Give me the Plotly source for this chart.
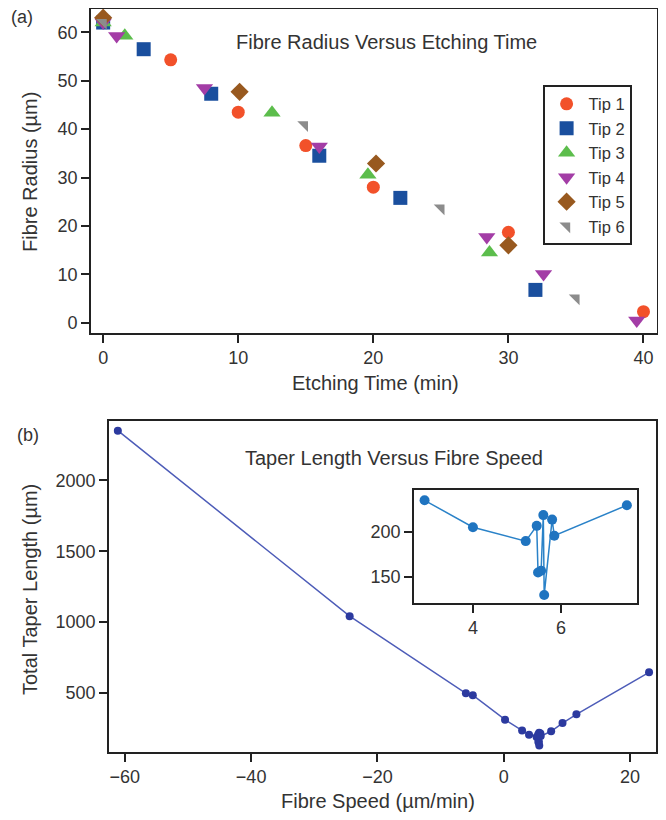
import plotly.graph_objects as go

# ---------------- Data: panel (a) ----------------
tip_names = ["Tip 1", "Tip 2", "Tip 3", "Tip 4", "Tip 5", "Tip 6"]
tip1_time = [0, 5, 10, 15, 20, 30, 40]
tip1_radius = [62.5, 54.3, 43.5, 36.6, 28.0, 18.7, 2.3]
tip2_time = [0, 3, 8, 16, 22, 32]
tip2_radius = [62.0, 56.5, 47.3, 34.5, 25.8, 6.8]
tip3_time = [0, 1.6, 12.5, 19.6, 28.6]
tip3_radius = [62.0, 59.3, 43.4, 30.6, 14.5]
tip4_time = [0, 1.0, 7.5, 16, 28.4, 32.6, 39.5]
tip4_radius = [62.0, 59.2, 48.5, 36.4, 17.7, 10.1, 0.5]
tip5_time = [0, 10.1, 20.2, 30]
tip5_radius = [63.0, 47.7, 32.9, 16.0]
tip6_time = [0, 14.9, 25, 35]
tip6_radius = [62.0, 40.9, 23.7, 5.1]

# ---------------- Data: panel (b) ----------------
fibre_speed = [-61.1, -24.4, -6.0, -4.9, 0.2, 2.9, 4.0, 5.2, 5.45, 5.48, 5.55,
               5.6, 5.62, 5.8, 5.85, 7.5, 9.3, 11.5, 23.0]
taper_length = [2350, 1042, 498, 484, 312, 235.5, 205.5, 190, 207, 155, 157,
                219, 130, 214, 196, 230, 288, 350, 646]
inset_speed = [s for s in fibre_speed if 2.5 < s < 8]
inset_length = [l for s, l in zip(fibre_speed, taper_length) if 2.5 < s < 8]

# page has an 8px body margin; figure is 650x804 placed at (8, 8)
OFF = 8
FW, FH = 650, 804
def px(x):
    return min(1.0, max(0.0, (x - OFF) / FW))
def py(y):
    return min(1.0, max(0.0, 1 - (y - OFF) / FH))

tips = [
    (tip1_time, tip1_radius, "circle", "#f2512a", 13),
    (tip2_time, tip2_radius, "square", "#1a4f9e", 14),
    (tip3_time, tip3_radius, "triangle-up", "#5cbd4c", 15),
    (tip4_time, tip4_radius, "triangle-down", "#a33da6", 15),
    (tip5_time, tip5_radius, "diamond", "#98591f", 14),
    (tip6_time, tip6_radius, "triangle-ne", "#8c8c8c", 12),
]

fig = go.Figure()
for name, (t, r, sym, col, sz) in zip(tip_names, tips):
    fig.add_trace(go.Scatter(x=t, y=r, mode="markers", name=name,
                             marker=dict(symbol=sym, color=col, size=sz, line=dict(width=0)),
                             xaxis="x", yaxis="y"))

fig.add_trace(go.Scatter(x=fibre_speed, y=taper_length, mode="lines+markers",
                         showlegend=False,
                         line=dict(color="#4d5cb8", width=1.5),
                         marker=dict(color="#2c3a9f", size=8),
                         xaxis="x2", yaxis="y2"))
fig.add_trace(go.Scatter(x=inset_speed, y=inset_length, mode="lines+markers",
                         showlegend=False,
                         line=dict(color="#2a82c8", width=1.5),
                         marker=dict(color="#1f74c0", size=10),
                         xaxis="x3", yaxis="y3"))

FAM = "Liberation Sans, Arial, sans-serif"
tickfont = dict(family=FAM, size=18, color="#333333")
axis_common = dict(showline=True, mirror=True, linecolor="#222222", linewidth=1.6,
                   ticks="outside", ticklen=8, tickwidth=1.6, tickcolor="#222222",
                   showgrid=False, zeroline=False, tickfont=tickfont)

fig.update_layout(
    width=FW, height=FH,
    margin=dict(l=0, r=0, t=0, b=0),
    paper_bgcolor="white", plot_bgcolor="white",
    font=dict(family=FAM, color="#333333"),
    xaxis=dict(domain=[px(91), px(657)], range=[-0.9, 41], tickvals=[0, 10, 20, 30, 40],
               anchor="y", **axis_common),
    yaxis=dict(domain=[py(333), py(9)], range=[-2.1, 64.8], tickvals=[0, 10, 20, 30, 40, 50, 60],
               anchor="x", **axis_common),
    xaxis2=dict(domain=[px(109), px(656)], range=[-62.5, 24.1], tickvals=[-60, -40, -20, 0, 20],
                ticktext=["\u221260", "\u221240", "\u221220", "0", "20"],
                anchor="y2", **axis_common),
    yaxis2=dict(domain=[py(752), py(421)], range=[84, 2418], tickvals=[500, 1000, 1500, 2000],
                anchor="x2", **axis_common),
    xaxis3=dict(domain=[px(414), px(637)], range=[2.66, 7.73], tickvals=[4, 6],
                anchor="y3", **axis_common),
    yaxis3=dict(domain=[py(603), py(490)], range=[121, 247], tickvals=[150, 200],
                anchor="x3", **axis_common),
    legend=dict(x=px(543), y=py(85), xanchor="left", yanchor="top",
                bgcolor="white", bordercolor="#222222", borderwidth=1.6,
                font=dict(family=FAM, size=16.5, color="#333333"), tracegroupgap=0,
                itemwidth=34),
    showlegend=True,
)

def ann(text, x, y, size, angle=0):
    return dict(text=text, x=px(x), y=py(y), xref="paper", yref="paper",
                xanchor="center", yanchor="middle", showarrow=False, textangle=angle,
                font=dict(family=FAM, size=size, color="#333333"))

annotations = [
    ann("(a)", 22, 17, 18),
    ann("(b)", 28, 435, 18),
    ann("Fibre Radius Versus Etching Time", 386, 42, 20),
    ann("Taper Length Versus Fibre Speed", 394, 458, 20),
    ann("Fibre Radius (\u00b5m)", 30, 172, 20, -90),
    ann("Etching Time (min)", 375, 383, 20),
    ann("Total Taper Length (\u00b5m)", 30, 590, 20, -90),
    ann("Fibre Speed (\u00b5m/min)", 378, 801, 20),
]
fig.update_layout(annotations=annotations)

fig.write_html("out.html")
